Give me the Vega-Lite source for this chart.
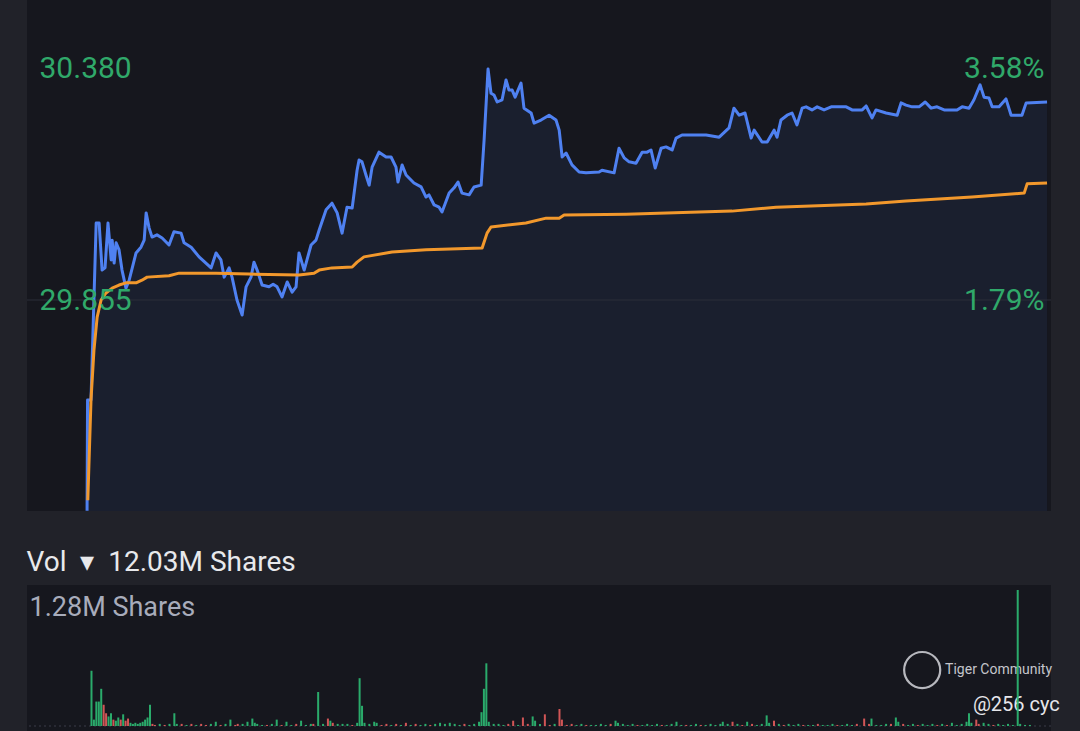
{
  "$schema": "https://vega.github.io/schema/vega-lite/v6.json",
  "background": "#212229",
  "padding": {"left": 26, "right": 28, "top": 0, "bottom": 0},
  "config": {
    "view": {"fill": "#16171e", "stroke": null},
    "font": "Roboto",
    "axis": {"domain": false, "ticks": false, "tickSize": 0, "grid": false, "title": null, "labelFont": "Roboto", "labelOverlap": false, "labelBound": false, "labelFlush": false, "zindex": 1}
  },
  "datasets": {
    "price": [
      {"t":0,"p":29.376},{"t":0.2,"p":29.628},{"t":1.6,"p":29.628},{"t":3.7,"p":30.030},{"t":4.9,"p":30.030},{"t":6.1,"p":29.923},{"t":7.3,"p":29.928},{"t":8.5,"p":30.030},{"t":9.8,"p":29.946},{"t":10.2,"p":29.991},{"t":11.0,"p":29.939},{"t":11.8,"p":29.985},{"t":13.0,"p":29.969},{"t":14.2,"p":29.923},{"t":15.8,"p":29.882},{"t":17.1,"p":29.900},{"t":19.9,"p":29.962},{"t":21.9,"p":29.975},{"t":23.2,"p":29.991},{"t":24.0,"p":30.053},{"t":25.2,"p":30.019},{"t":26.4,"p":29.998},{"t":28.4,"p":30.003},{"t":30.5,"p":29.996},{"t":33.3,"p":29.980},{"t":35.3,"p":30.010},{"t":38.2,"p":30.007},{"t":39.4,"p":29.985},{"t":42.3,"p":29.975},{"t":45.5,"p":29.953},{"t":50.4,"p":29.928},{"t":52.4,"p":29.962},{"t":54.4,"p":29.946},{"t":55.7,"p":29.907},{"t":57.7,"p":29.928},{"t":58.9,"p":29.907},{"t":60.9,"p":29.855},{"t":63.0,"p":29.821},{"t":64.6,"p":29.885},{"t":66.6,"p":29.907},{"t":67.8,"p":29.941},{"t":69.1,"p":29.923},{"t":71.1,"p":29.889},{"t":73.9,"p":29.885},{"t":75.6,"p":29.891},{"t":77.2,"p":29.885},{"t":79.2,"p":29.862},{"t":81.3,"p":29.896},{"t":83.3,"p":29.873},{"t":84.9,"p":29.885},{"t":86.1,"p":29.962},{"t":88.2,"p":29.923},{"t":91.0,"p":29.980},{"t":93.0,"p":29.991},{"t":94.3,"p":30.014},{"t":97.1,"p":30.060},{"t":99.5,"p":30.075},{"t":101.6,"p":30.053},{"t":103.6,"p":30.007},{"t":105.6,"p":30.066},{"t":107.7,"p":30.064},{"t":109.7,"p":30.150},{"t":110.5,"p":30.173},{"t":111.7,"p":30.169},{"t":113.3,"p":30.139},{"t":114.6,"p":30.116},{"t":115.8,"p":30.157},{"t":118.6,"p":30.191},{"t":121.5,"p":30.180},{"t":123.5,"p":30.180},{"t":125.5,"p":30.157},{"t":126.3,"p":30.123},{"t":128.0,"p":30.162},{"t":129.6,"p":30.139},{"t":132.8,"p":30.121},{"t":135.7,"p":30.112},{"t":137.7,"p":30.089},{"t":138.9,"p":30.094},{"t":141.0,"p":30.071},{"t":143.0,"p":30.066},{"t":144.2,"p":30.055},{"t":147.1,"p":30.098},{"t":149.1,"p":30.110},{"t":150.7,"p":30.123},{"t":152.3,"p":30.098},{"t":155.2,"p":30.094},{"t":157.2,"p":30.112},{"t":160.1,"p":30.116},{"t":161.3,"p":30.219},{"t":162.9,"p":30.380},{"t":164.1,"p":30.325},{"t":165.3,"p":30.321},{"t":166.6,"p":30.305},{"t":168.6,"p":30.310},{"t":170.2,"p":30.355},{"t":171.4,"p":30.332},{"t":172.7,"p":30.332},{"t":173.9,"p":30.316},{"t":176.3,"p":30.348},{"t":177.5,"p":30.291},{"t":180.4,"p":30.280},{"t":181.6,"p":30.257},{"t":184.4,"p":30.264},{"t":187.7,"p":30.275},{"t":190.5,"p":30.264},{"t":191.8,"p":30.241},{"t":193.0,"p":30.180},{"t":194.6,"p":30.189},{"t":197.0,"p":30.162},{"t":199.9,"p":30.146},{"t":202.7,"p":30.144},{"t":208.0,"p":30.146},{"t":209.2,"p":30.150},{"t":214.1,"p":30.144},{"t":216.1,"p":30.200},{"t":218.2,"p":30.178},{"t":220.2,"p":30.169},{"t":223.0,"p":30.166},{"t":225.5,"p":30.191},{"t":227.5,"p":30.191},{"t":229.1,"p":30.196},{"t":230.8,"p":30.155},{"t":233.2,"p":30.200},{"t":235.2,"p":30.203},{"t":237.7,"p":30.196},{"t":239.3,"p":30.223},{"t":241.7,"p":30.230},{"t":245.8,"p":30.230},{"t":251.5,"p":30.230},{"t":256.8,"p":30.225},{"t":260.8,"p":30.246},{"t":262.8,"p":30.291},{"t":264.9,"p":30.275},{"t":267.3,"p":30.280},{"t":269.8,"p":30.223},{"t":271.0,"p":30.241},{"t":274.2,"p":30.214},{"t":276.3,"p":30.214},{"t":279.1,"p":30.241},{"t":280.3,"p":30.225},{"t":281.9,"p":30.264},{"t":284.4,"p":30.275},{"t":286.4,"p":30.280},{"t":288.4,"p":30.253},{"t":290.5,"p":30.291},{"t":292.1,"p":30.294},{"t":294.5,"p":30.287},{"t":296.6,"p":30.294},{"t":299.4,"p":30.287},{"t":302.3,"p":30.294},{"t":308.4,"p":30.294},{"t":310.8,"p":30.287},{"t":314.9,"p":30.287},{"t":316.5,"p":30.296},{"t":318.9,"p":30.269},{"t":320.5,"p":30.287},{"t":324.6,"p":30.280},{"t":329.1,"p":30.275},{"t":330.7,"p":30.303},{"t":332.7,"p":30.298},{"t":335.2,"p":30.294},{"t":338.0,"p":30.294},{"t":340.5,"p":30.305},{"t":342.9,"p":30.291},{"t":345.3,"p":30.294},{"t":348.2,"p":30.287},{"t":353.4,"p":30.287},{"t":355.5,"p":30.294},{"t":358.3,"p":30.291},{"t":360.3,"p":30.310},{"t":362.8,"p":30.344},{"t":364.4,"p":30.316},{"t":366.4,"p":30.314},{"t":367.7,"p":30.294},{"t":370.5,"p":30.294},{"t":373.3,"p":30.312},{"t":375.4,"p":30.275},{"t":379.8,"p":30.275},{"t":381.5,"p":30.303},{"t":390.0,"p":30.305}
    ],
    "vwap": [
      {"t":0.3,"p":29.400},{"t":1.6,"p":29.628},{"t":2.8,"p":29.741},{"t":4.1,"p":29.816},{"t":5.7,"p":29.855},{"t":7.7,"p":29.871},{"t":10.2,"p":29.882},{"t":13.0,"p":29.889},{"t":15.8,"p":29.894},{"t":19.9,"p":29.894},{"t":22.3,"p":29.900},{"t":24.4,"p":29.907},{"t":33.3,"p":29.910},{"t":37.4,"p":29.916},{"t":52.4,"p":29.916},{"t":65.8,"p":29.914},{"t":86.1,"p":29.912},{"t":92.2,"p":29.916},{"t":94.3,"p":29.923},{"t":99.5,"p":29.928},{"t":107.7,"p":29.930},{"t":109.7,"p":29.941},{"t":112.5,"p":29.953},{"t":123.9,"p":29.964},{"t":137.7,"p":29.969},{"t":160.5,"p":29.973},{"t":162.5,"p":30.007},{"t":164.1,"p":30.021},{"t":178.3,"p":30.030},{"t":186.5,"p":30.041},{"t":191.8,"p":30.041},{"t":193.8,"p":30.048},{"t":219.0,"p":30.050},{"t":248.6,"p":30.055},{"t":262.0,"p":30.057},{"t":279.9,"p":30.066},{"t":316.5,"p":30.073},{"t":332.7,"p":30.080},{"t":359.5,"p":30.089},{"t":380.7,"p":30.098},{"t":381.9,"p":30.119},{"t":390.0,"p":30.121}
    ],
    "vol": [
      {"t":0,"v":0.52,"d":"up"},{"t":1,"v":0.06,"d":"up"},{"t":2,"v":0.23,"d":"up"},{"t":3,"v":0.23,"d":"up"},{"t":4,"v":0.35,"d":"up"},{"t":5,"v":0.20,"d":"down"},{"t":6,"v":0.12,"d":"down"},{"t":7,"v":0.09,"d":"up"},{"t":8,"v":0.12,"d":"up"},{"t":9,"v":0.06,"d":"down"},{"t":10,"v":0.05,"d":"up"},{"t":11,"v":0.08,"d":"up"},{"t":12,"v":0.06,"d":"down"},{"t":13,"v":0.11,"d":"up"},{"t":14,"v":0.05,"d":"down"},{"t":15,"v":0.07,"d":"down"},{"t":16,"v":0.03,"d":"up"},{"t":17,"v":0.02,"d":"up"},{"t":18,"v":0.03,"d":"up"},{"t":19,"v":0.02,"d":"up"},{"t":20,"v":0.03,"d":"up"},{"t":21,"v":0.04,"d":"up"},{"t":22,"v":0.06,"d":"up"},{"t":23,"v":0.08,"d":"up"},{"t":24,"v":0.20,"d":"up"},{"t":25,"v":0.02,"d":"down"},{"t":26,"v":0.01,"d":"down"},{"t":28,"v":0.02,"d":"up"},{"t":30,"v":0.01,"d":"down"},{"t":32,"v":0.02,"d":"up"},{"t":34,"v":0.12,"d":"up"},{"t":35,"v":0.02,"d":"up"},{"t":37,"v":0.02,"d":"down"},{"t":39,"v":0.01,"d":"up"},{"t":41,"v":0.02,"d":"down"},{"t":43,"v":0.01,"d":"up"},{"t":45,"v":0.02,"d":"down"},{"t":47,"v":0.01,"d":"down"},{"t":49,"v":0.02,"d":"up"},{"t":51,"v":0.04,"d":"up"},{"t":53,"v":0.01,"d":"down"},{"t":55,"v":0.02,"d":"up"},{"t":57,"v":0.06,"d":"up"},{"t":59,"v":0.01,"d":"down"},{"t":60,"v":0.02,"d":"down"},{"t":62,"v":0.02,"d":"up"},{"t":64,"v":0.04,"d":"up"},{"t":66,"v":0.07,"d":"up"},{"t":67,"v":0.03,"d":"up"},{"t":68,"v":0.02,"d":"up"},{"t":70,"v":0.01,"d":"up"},{"t":72,"v":0.01,"d":"down"},{"t":74,"v":0.02,"d":"up"},{"t":76,"v":0.06,"d":"up"},{"t":78,"v":0.01,"d":"down"},{"t":80,"v":0.04,"d":"up"},{"t":82,"v":0.01,"d":"up"},{"t":84,"v":0.02,"d":"down"},{"t":86,"v":0.05,"d":"up"},{"t":88,"v":0.01,"d":"up"},{"t":90,"v":0.02,"d":"up"},{"t":91,"v":0.02,"d":"down"},{"t":93,"v":0.32,"d":"up"},{"t":95,"v":0.02,"d":"up"},{"t":97,"v":0.07,"d":"down"},{"t":98,"v":0.05,"d":"up"},{"t":99,"v":0.03,"d":"down"},{"t":101,"v":0.02,"d":"up"},{"t":103,"v":0.02,"d":"up"},{"t":105,"v":0.02,"d":"up"},{"t":107,"v":0.01,"d":"down"},{"t":109,"v":0.03,"d":"up"},{"t":110,"v":0.45,"d":"up"},{"t":111,"v":0.19,"d":"up"},{"t":112,"v":0.03,"d":"up"},{"t":114,"v":0.02,"d":"up"},{"t":116,"v":0.04,"d":"up"},{"t":117,"v":0.03,"d":"up"},{"t":119,"v":0.01,"d":"down"},{"t":121,"v":0.02,"d":"down"},{"t":123,"v":0.01,"d":"up"},{"t":125,"v":0.02,"d":"down"},{"t":127,"v":0.01,"d":"up"},{"t":129,"v":0.03,"d":"down"},{"t":131,"v":0.01,"d":"up"},{"t":133,"v":0.02,"d":"down"},{"t":135,"v":0.01,"d":"up"},{"t":137,"v":0.02,"d":"up"},{"t":139,"v":0.01,"d":"down"},{"t":141,"v":0.02,"d":"up"},{"t":143,"v":0.03,"d":"up"},{"t":145,"v":0.02,"d":"up"},{"t":147,"v":0.03,"d":"up"},{"t":149,"v":0.02,"d":"up"},{"t":151,"v":0.01,"d":"up"},{"t":153,"v":0.02,"d":"down"},{"t":155,"v":0.01,"d":"up"},{"t":157,"v":0.02,"d":"up"},{"t":159,"v":0.04,"d":"up"},{"t":160,"v":0.13,"d":"up"},{"t":161,"v":0.35,"d":"up"},{"t":162,"v":0.59,"d":"up"},{"t":163,"v":0.04,"d":"up"},{"t":165,"v":0.02,"d":"up"},{"t":167,"v":0.02,"d":"up"},{"t":169,"v":0.01,"d":"up"},{"t":171,"v":0.02,"d":"down"},{"t":173,"v":0.05,"d":"down"},{"t":175,"v":0.01,"d":"up"},{"t":177,"v":0.08,"d":"down"},{"t":179,"v":0.02,"d":"down"},{"t":181,"v":0.09,"d":"up"},{"t":182,"v":0.05,"d":"up"},{"t":184,"v":0.02,"d":"up"},{"t":186,"v":0.11,"d":"down"},{"t":188,"v":0.01,"d":"down"},{"t":190,"v":0.02,"d":"up"},{"t":192,"v":0.16,"d":"down"},{"t":193,"v":0.06,"d":"down"},{"t":195,"v":0.01,"d":"down"},{"t":197,"v":0.02,"d":"down"},{"t":199,"v":0.01,"d":"up"},{"t":201,"v":0.02,"d":"up"},{"t":203,"v":0.01,"d":"down"},{"t":205,"v":0.01,"d":"up"},{"t":207,"v":0.01,"d":"up"},{"t":209,"v":0.02,"d":"up"},{"t":211,"v":0.01,"d":"up"},{"t":213,"v":0.02,"d":"down"},{"t":215,"v":0.05,"d":"up"},{"t":216,"v":0.03,"d":"up"},{"t":218,"v":0.02,"d":"up"},{"t":220,"v":0.01,"d":"up"},{"t":222,"v":0.02,"d":"up"},{"t":224,"v":0.01,"d":"down"},{"t":226,"v":0.01,"d":"up"},{"t":228,"v":0.02,"d":"up"},{"t":230,"v":0.01,"d":"up"},{"t":232,"v":0.02,"d":"up"},{"t":234,"v":0.01,"d":"down"},{"t":236,"v":0.01,"d":"up"},{"t":238,"v":0.02,"d":"up"},{"t":240,"v":0.04,"d":"up"},{"t":242,"v":0.01,"d":"up"},{"t":244,"v":0.01,"d":"down"},{"t":246,"v":0.01,"d":"up"},{"t":248,"v":0.02,"d":"up"},{"t":250,"v":0.01,"d":"down"},{"t":252,"v":0.01,"d":"up"},{"t":254,"v":0.02,"d":"up"},{"t":256,"v":0.01,"d":"up"},{"t":258,"v":0.02,"d":"up"},{"t":259,"v":0.04,"d":"up"},{"t":261,"v":0.02,"d":"up"},{"t":263,"v":0.04,"d":"down"},{"t":265,"v":0.02,"d":"up"},{"t":267,"v":0.01,"d":"down"},{"t":269,"v":0.04,"d":"up"},{"t":271,"v":0.02,"d":"down"},{"t":273,"v":0.01,"d":"up"},{"t":275,"v":0.02,"d":"up"},{"t":277,"v":0.10,"d":"up"},{"t":278,"v":0.03,"d":"up"},{"t":280,"v":0.05,"d":"down"},{"t":282,"v":0.02,"d":"up"},{"t":284,"v":0.01,"d":"down"},{"t":286,"v":0.02,"d":"up"},{"t":288,"v":0.01,"d":"up"},{"t":290,"v":0.02,"d":"up"},{"t":292,"v":0.01,"d":"down"},{"t":294,"v":0.01,"d":"up"},{"t":296,"v":0.01,"d":"up"},{"t":298,"v":0.02,"d":"down"},{"t":300,"v":0.01,"d":"up"},{"t":302,"v":0.01,"d":"up"},{"t":304,"v":0.02,"d":"up"},{"t":306,"v":0.01,"d":"down"},{"t":308,"v":0.01,"d":"up"},{"t":310,"v":0.02,"d":"up"},{"t":312,"v":0.01,"d":"up"},{"t":314,"v":0.02,"d":"down"},{"t":317,"v":0.07,"d":"down"},{"t":319,"v":0.02,"d":"down"},{"t":320,"v":0.07,"d":"up"},{"t":322,"v":0.01,"d":"up"},{"t":324,"v":0.01,"d":"up"},{"t":326,"v":0.02,"d":"up"},{"t":328,"v":0.02,"d":"down"},{"t":330,"v":0.08,"d":"up"},{"t":331,"v":0.04,"d":"up"},{"t":333,"v":0.02,"d":"down"},{"t":335,"v":0.01,"d":"up"},{"t":337,"v":0.02,"d":"up"},{"t":339,"v":0.01,"d":"down"},{"t":341,"v":0.02,"d":"up"},{"t":343,"v":0.01,"d":"up"},{"t":345,"v":0.02,"d":"up"},{"t":347,"v":0.01,"d":"down"},{"t":349,"v":0.02,"d":"up"},{"t":351,"v":0.01,"d":"down"},{"t":353,"v":0.03,"d":"up"},{"t":355,"v":0.01,"d":"up"},{"t":357,"v":0.02,"d":"up"},{"t":359,"v":0.04,"d":"up"},{"t":360,"v":0.12,"d":"up"},{"t":361,"v":0.03,"d":"up"},{"t":363,"v":0.06,"d":"down"},{"t":364,"v":0.02,"d":"down"},{"t":366,"v":0.03,"d":"up"},{"t":368,"v":0.02,"d":"up"},{"t":370,"v":0.01,"d":"down"},{"t":372,"v":0.02,"d":"up"},{"t":374,"v":0.01,"d":"up"},{"t":376,"v":0.02,"d":"up"},{"t":378,"v":0.01,"d":"up"},{"t":380,"v":1.28,"d":"up"},{"t":381,"v":0.02,"d":"up"},{"t":383,"v":0.01,"d":"up"},{"t":385,"v":0.01,"d":"up"}
    ],
    "marks": [
      {"label": "Tiger Community", "t": 350.2, "v": 0.527},
      {"label": "@256 cyc", "t": 361.6, "v": 0.198}
    ]
  },
  "vconcat": [
    {
      "width": 1024,
      "height": 511,
      "layer": [
        {
          "data": {"name": "price"},
          "mark": {"type": "area", "color": "#1a1f2e", "interpolate": "linear"},
          "encoding": {
            "x": {"field": "t", "type": "quantitative", "scale": {"domain": [-24.4, 391.6], "nice": false, "zero": false}, "axis": null},
            "y": {"field": "p", "type": "quantitative", "scale": {"domain": [29.3755, 30.5368], "nice": false, "zero": false}, "axis": null},
            "y2": {"datum": 29.3755}
          }
        },
        {
          "data": {"values": [{"p": 29.855}]},
          "mark": {"type": "rule", "color": "#2b2e39", "strokeWidth": 1},
          "encoding": {"y": {"field": "p", "type": "quantitative", "scale": {"domain": [29.3755, 30.5368], "nice": false, "zero": false}, "axis": null}}
        },
        {
          "data": {"name": "price"},
          "mark": {"type": "line", "color": "#4f81f1", "strokeWidth": 3, "strokeJoin": "round"},
          "encoding": {
            "x": {"field": "t", "type": "quantitative", "scale": {"domain": [-24.4, 391.6], "nice": false, "zero": false}, "axis": null},
            "y": {
              "field": "p", "type": "quantitative",
              "scale": {"domain": [29.3755, 30.5368], "nice": false, "zero": false},
              "axis": {"orient": "left", "values": [29.855, 30.38], "format": ".3f", "labelAlign": "left", "labelBaseline": "middle", "labelPadding": -12, "labelFontSize": 30, "labelColor": "#30a96a", "zindex": 1}
            }
          }
        },
        {
          "data": {"name": "vwap"},
          "mark": {"type": "line", "color": "#f2982c", "strokeWidth": 3, "strokeJoin": "round"},
          "encoding": {
            "x": {"field": "t", "type": "quantitative", "scale": {"domain": [-24.4, 391.6], "nice": false, "zero": false}, "axis": null},
            "y": {
              "field": "p", "type": "quantitative",
              "scale": {"domain": [29.3755, 30.5368], "nice": false, "zero": false},
              "axis": {"orient": "right", "values": [29.855, 30.38], "labelExpr": "format((datum.value / 29.33 - 1) * 100, '.2f') + '%'", "labelAlign": "right", "labelBaseline": "middle", "labelPadding": -7, "labelFontSize": 30, "labelColor": "#30a96a", "zindex": 1}
            }
          }
        }
      ],
      "resolve": {"scale": {"y": "shared"}, "axis": {"y": "independent"}}
    },
    {
      "width": 1024,
      "height": 146,
      "title": {"text": "Vol\u00a0\u00a0▾\u00a0\u00a012.03M Shares", "anchor": "start", "fontSize": 28, "fontWeight": "normal", "font": "Roboto", "color": "#e8e9ec", "offset": 8},
      "layer": [
        {
          "data": {"values": [{"v": 0}]},
          "mark": {"type": "rule", "color": "#3a3d48", "strokeWidth": 1, "strokeDash": [2, 3]},
          "encoding": {"y": {"field": "v", "type": "quantitative", "scale": {"domain": [-0.047, 1.327], "nice": false, "zero": false}, "axis": null}}
        },
        {
          "data": {"values": [{"t": 340.8, "v": 0.527}]},
          "mark": {"type": "point", "shape": "circle", "size": 1300, "filled": false, "stroke": "#c9cad0", "strokeWidth": 2.2, "opacity": 0.9},
          "encoding": {
            "x": {"field": "t", "type": "quantitative", "scale": {"domain": [-24.4, 391.6], "nice": false, "zero": false}, "axis": null},
            "y": {"field": "v", "type": "quantitative", "scale": {"domain": [-0.047, 1.327], "nice": false, "zero": false}, "axis": null}
          }
        },
        {
          "data": {"name": "marks"},
          "mark": {"type": "text", "align": "left", "baseline": "middle", "font": "Roboto"},
          "encoding": {
            "x": {"field": "t", "type": "quantitative", "scale": {"domain": [-24.4, 391.6], "nice": false, "zero": false}, "axis": null},
            "y": {"field": "v", "type": "quantitative", "scale": {"domain": [-0.047, 1.327], "nice": false, "zero": false}, "axis": null},
            "text": {"field": "label"},
            "size": {"condition": {"test": "datum.label == '@256 cyc'", "value": 20}, "value": 14},
            "color": {"condition": {"test": "datum.label == '@256 cyc'", "value": "#e6e6ea"}, "value": "#c4c5cb"}
          }
        },
        {
          "data": {"name": "vol"},
          "mark": {"type": "bar", "size": 2, "opacity": 0.92},
          "encoding": {
            "x": {"field": "t", "type": "quantitative", "scale": {"domain": [-24.4, 391.6], "nice": false, "zero": false}, "axis": null},
            "y": {
              "field": "v", "type": "quantitative",
              "scale": {"domain": [-0.047, 1.327], "nice": false, "zero": false},
              "axis": {"orient": "left", "values": [1.28], "labelExpr": "'1.28M Shares'", "labelAlign": "left", "labelBaseline": "alphabetic", "labelOffset": 26, "labelPadding": -2, "labelFontSize": 27, "labelColor": "#a8acbb", "zindex": 1}
            },
            "y2": {"datum": 0},
            "color": {"field": "d", "type": "nominal", "scale": {"domain": ["up", "down"], "range": ["#2db872", "#e25b5b"]}, "legend": null}
          }
        }
      ],
      "resolve": {"axis": {"y": "independent", "x": "independent"}}
    }
  ],
  "spacing": 74,
  "bounds": "flush"
}
